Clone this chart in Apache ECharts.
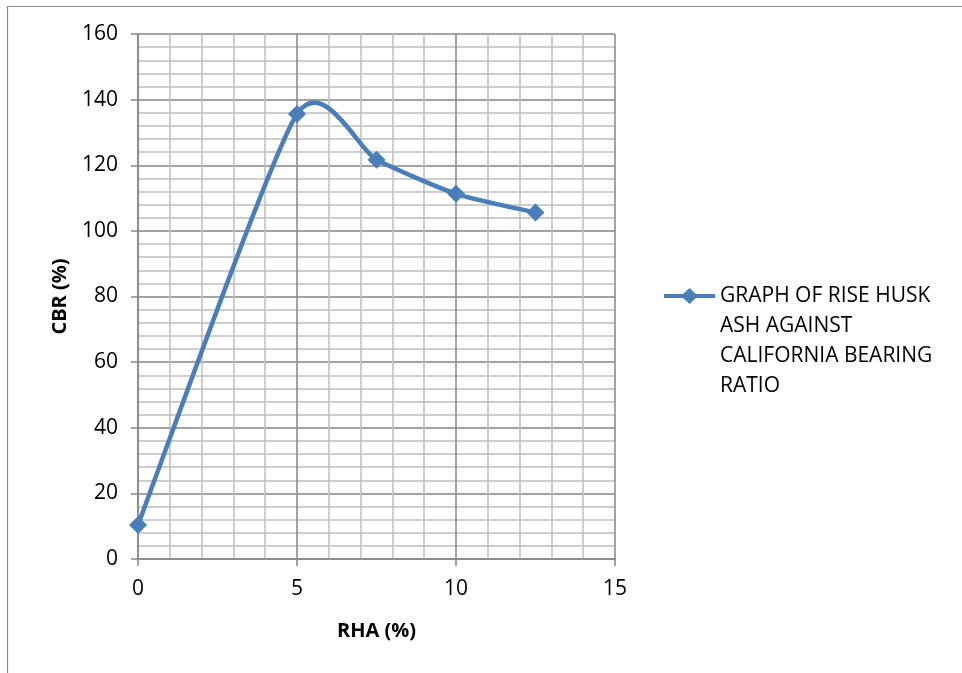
<!DOCTYPE html>
<html><head><meta charset="utf-8">
<script src="https://cdn.jsdelivr.net/npm/echarts@6/dist/echarts.min.js"></script>
<style>html,body{margin:0;padding:0;background:#fff}#c{width:962px;height:673px}</style>
</head><body><div id="c"></div>
<script>
const rhaValues = [0, 5, 7.5, 10, 12.5];
const cbrValues = [10.4, 135.6, 121.7, 111.3, 105.6];
const seriesName = 'GRAPH OF RISE HUSK ASH AGAINST CALIFORNIA BEARING RATIO';
const legendLines = ['GRAPH OF RISE HUSK', 'ASH AGAINST', 'CALIFORNIA BEARING', 'RATIO'];
const xAxisName = 'RHA (%)';
const yAxisName = 'CBR (%)';

const FONT = 'Open Sans';
const LINE_COLOR = '#4a7ebb';
const TENSION = 0.11;

function smoothPath(pts) {
  let d = 'M' + pts[0][0] + ',' + pts[0][1];
  for (let i = 0; i < pts.length - 1; i++) {
    const p0 = pts[Math.max(i - 1, 0)], p1 = pts[i], p2 = pts[i + 1], p3 = pts[Math.min(i + 2, pts.length - 1)];
    const c1 = [p1[0] + (p2[0] - p0[0]) * TENSION, p1[1] + (p2[1] - p0[1]) * TENSION];
    const c2 = [p2[0] - (p3[0] - p1[0]) * TENSION, p2[1] - (p3[1] - p1[1]) * TENSION];
    d += ' C' + c1[0] + ',' + c1[1] + ' ' + c2[0] + ',' + c2[1] + ' ' + p2[0] + ',' + p2[1];
  }
  return d;
}

const points = rhaValues.map((x, i) => [x, cbrValues[i]]);
const chart = echarts.init(document.getElementById('c'), null, {renderer: 'canvas'});
chart.setOption({
  animation: false,
  backgroundColor: '#fff',
  textStyle: {fontFamily: FONT},
  graphic: [{
    type: 'rect', z: -1, silent: true,
    shape: {x: 7.5, y: 6.5, width: 1000, height: 1000},
    style: {fill: 'none', stroke: '#8c8c8c', lineWidth: 1.2}
  }],
  grid: {left: 138, right: 347, top: 34, bottom: 114, containLabel: false},
  xAxis: {
    type: 'value', min: 0, max: 15, interval: 5,
    name: xAxisName, nameLocation: 'middle', nameGap: 62,
    nameTextStyle: {fontFamily: FONT, fontSize: 20, fontWeight: 'bold', color: '#000'},
    axisLine: {show: true, onZero: false, lineStyle: {color: '#868686', width: 1.5}},
    axisTick: {show: true, length: 7, lineStyle: {color: '#868686', width: 1.5}},
    axisLabel: {fontFamily: FONT, fontSize: 21, color: '#000', margin: 20},
    splitLine: {show: true, lineStyle: {color: '#868686', width: 1.5}},
    minorTick: {show: false, splitNumber: 5},
    minorSplitLine: {show: true, lineStyle: {color: '#bfbfbf', width: 1.5}}
  },
  yAxis: {
    type: 'value', min: 0, max: 160, interval: 20,
    name: yAxisName, nameLocation: 'middle', nameGap: 68, nameRotate: 90,
    nameTextStyle: {fontFamily: FONT, fontSize: 20, fontWeight: 'bold', color: '#000'},
    axisLine: {show: true, lineStyle: {color: '#868686', width: 1.5}},
    axisTick: {show: true, length: 7, lineStyle: {color: '#868686', width: 1.5}},
    axisLabel: {fontFamily: FONT, fontSize: 21, color: '#000', margin: 20},
    splitLine: {show: true, lineStyle: {color: '#868686', width: 1.5}},
    minorTick: {show: false, splitNumber: 5},
    minorSplitLine: {show: true, lineStyle: {color: '#bfbfbf', width: 1.5}}
  },
  legend: {
    show: true, orient: 'vertical', left: 659, top: 186,
    itemWidth: 51, itemHeight: 16, itemGap: 10,
    formatter: () => '\n\n\n' + legendLines.join('\n'),
    textStyle: {fontFamily: FONT, fontSize: 21, color: '#000', lineHeight: 30},
    data: [{name: seriesName,
      icon: 'path://M0,6 L19,6 L25.5,0 L32,6 L51,6 L51,10 L32,10 L25.5,16 L19,10 L0,10 Z',
      itemStyle: {color: LINE_COLOR, borderWidth: 0}}]
  },
  series: [{
    name: 'curve', type: 'custom', z: 2, silent: true,
    data: points,
    renderItem: (params, api) => {
      if (params.dataIndex !== 0) return null;
      const px = points.map(p => api.coord(p));
      return {type: 'path', shape: {pathData: smoothPath(px)},
        style: {fill: 'none', stroke: LINE_COLOR, lineWidth: 4.5, lineJoin: 'round'}};
    }
  }, {
    name: seriesName, type: 'line', z: 3,
    data: points,
    symbol: 'diamond', symbolSize: 18,
    lineStyle: {color: LINE_COLOR, width: 0, opacity: 0},
    itemStyle: {color: LINE_COLOR}
  }]
});
</script></body></html>
